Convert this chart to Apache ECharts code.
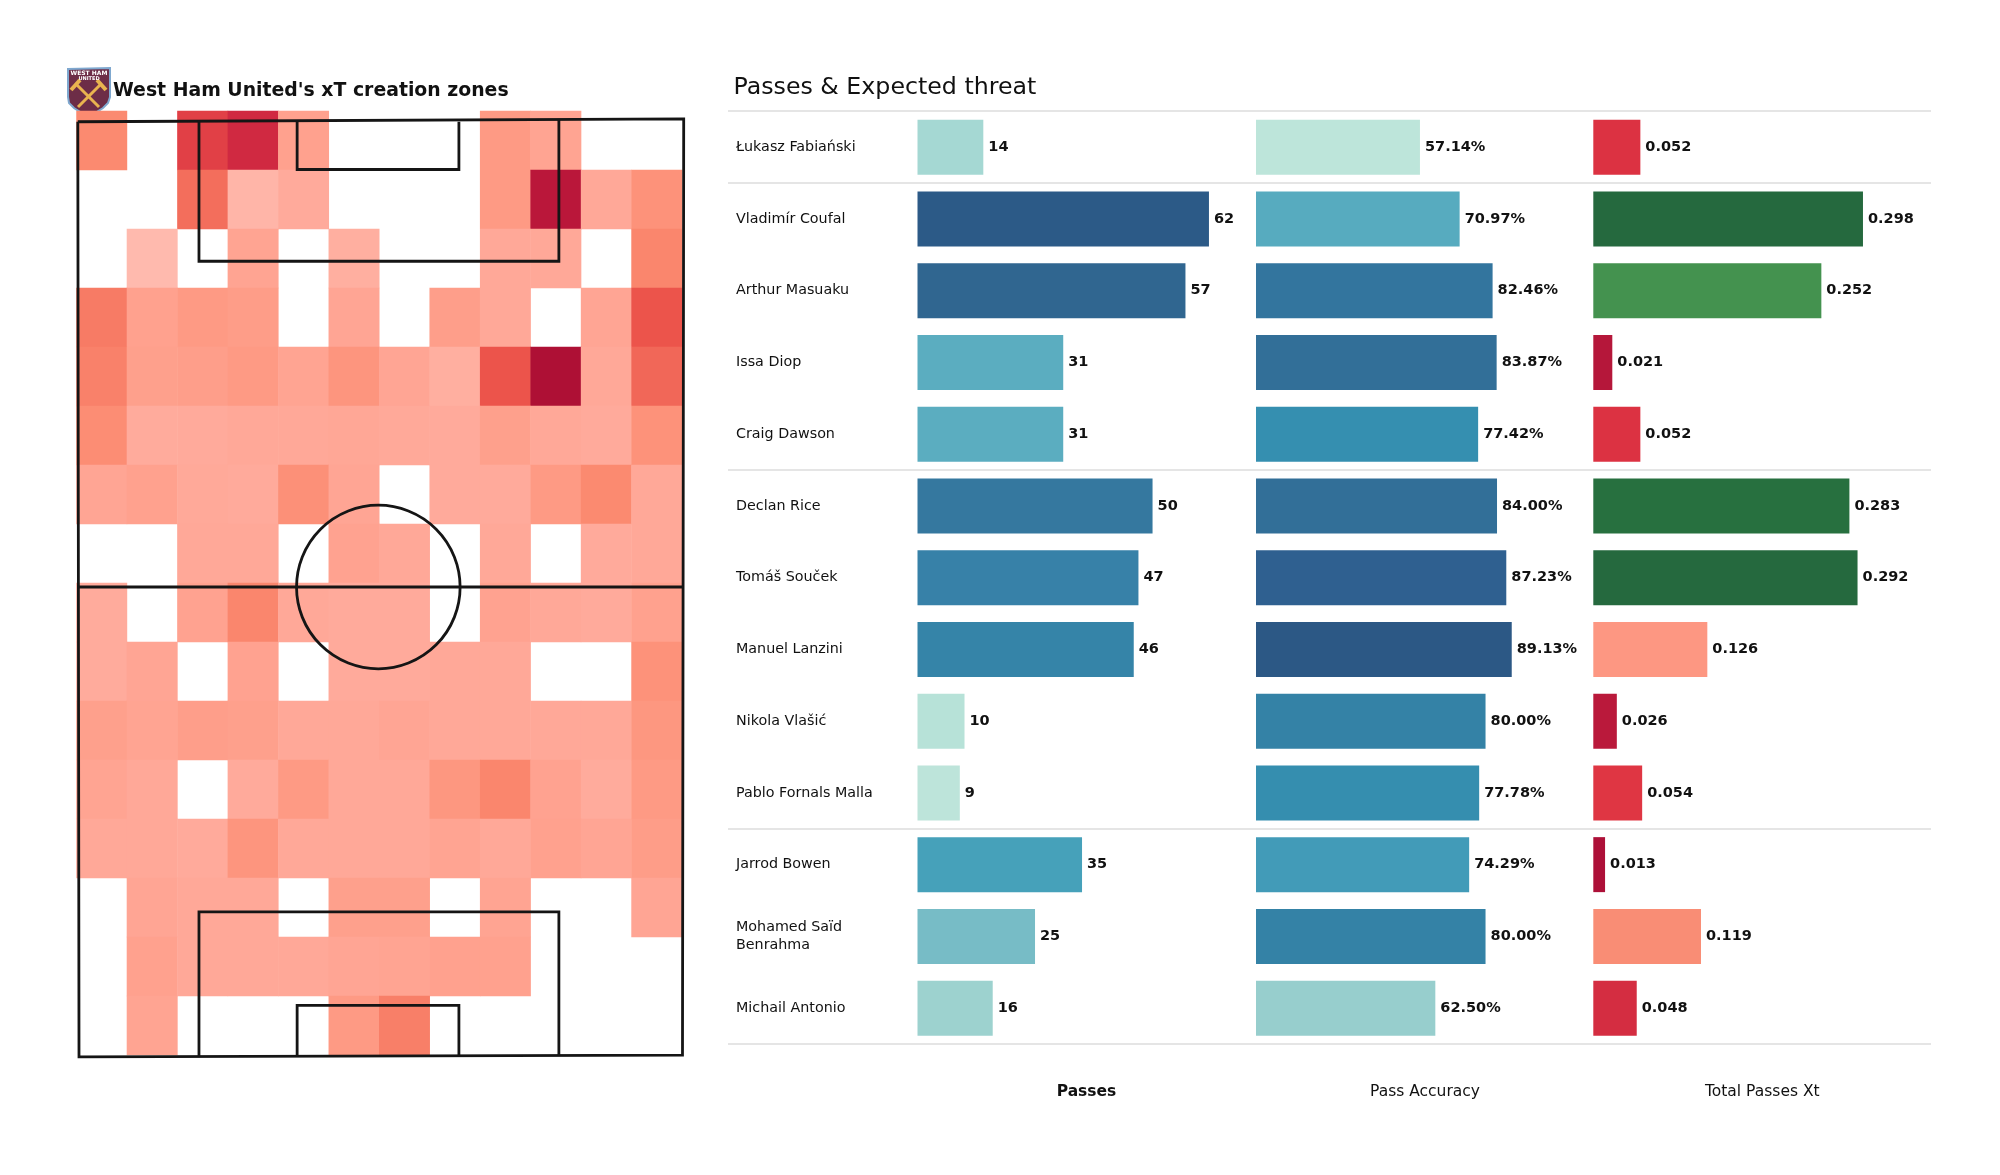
<!DOCTYPE html>
<html><head><meta charset="utf-8">
<style>html,body{margin:0;padding:0;background:#fff}#c{width:2000px;height:1175px}</style>
<script src="https://cdn.jsdelivr.net/npm/echarts@6/dist/echarts.min.js"></script>
</head><body><div id="c"></div>
<script>
const players = ["Łukasz Fabiański","Vladimír Coufal","Arthur Masuaku","Issa Diop","Craig Dawson","Declan Rice","Tomáš Souček","Manuel Lanzini","Nikola Vlašić","Pablo Fornals Malla","Jarrod Bowen","Mohamed Saïd\nBenrahma","Michail Antonio"];
const passes = [14,62,57,31,31,50,47,46,10,9,35,25,16];
const accuracy = [57.14,70.97,82.46,83.87,77.42,84.00,87.23,89.13,80.00,77.78,74.29,80.00,62.50];
const xT = [0.052,0.298,0.252,0.021,0.052,0.283,0.292,0.126,0.026,0.054,0.013,0.119,0.048];
const passColors = ['#a5d8d3','#2c5a87','#306690','#5badc0','#5badc0','#35789f','#3781a8','#3584a8','#b7e2d8','#bde4da','#46a1ba','#77bcc6','#9dd2cf'];
const accColors = ['#bde5da','#57abbf','#33759e','#326f98','#358fb0','#326f98','#2f6090','#2c5885','#3482a6','#358eaf','#429bb8','#3482a6','#97cecd'];
const xtColors = ['#dc3242','#25693e','#44924f','#b5173a','#dc3242','#27703f','#25693e','#fd9782','#ba193b','#df3643','#ad1038','#f98d75','#d42d41'];
const separatorRows = [0,1,5,10,13];
const panelNames = ['Passes','Pass Accuracy','Total Passes Xt'];
// xT zone grid, top row first; 0 = no passes from the zone
const heatRows = [
 [.40,0,.68,.78,.25,0,0,0,.30,.23,0,0],
 [0,0,.52,.08,.18,0,0,0,.30,.92,.20,.35],
 [0,.03,0,.23,0,.14,0,0,.20,.20,0,.42],
 [.47,.25,.30,.28,0,.22,0,.27,.20,0,.22,.60],
 [.44,.26,.27,.30,.23,.33,.22,.14,.60,1,.20,.54],
 [.38,.17,.18,.20,.20,.21,.19,.18,.26,.20,.18,.35],
 [.22,.25,.19,.18,.36,.22,0,.18,.18,.30,.40,.20],
 [0,0,.20,.20,0,.24,.20,0,.20,0,.18,.20],
 [.17,0,.24,.42,.20,.18,.18,0,.24,.20,.18,.25],
 [.17,.22,0,.24,0,.18,.18,.20,.20,0,0,.35],
 [.26,.23,.27,.26,.20,.20,.22,.20,.20,.20,.20,.32],
 [.23,.20,0,.18,.30,.20,.20,.32,.42,.24,.17,.30],
 [.20,.20,.18,.33,.20,.20,.20,.23,.20,.25,.22,.28],
 [0,.22,.20,.20,0,.26,.26,0,.23,0,0,.22],
 [0,.25,.20,.20,.20,.22,.23,.25,.25,0,0,0],
 [0,.23,0,0,0,.30,.45,0,0,0,0,0]
];
const heatColors = ['#ffbdb2','#ffb3a6','#ffa898','#fe9a84','#fb8a70','#f57460','#ec544b','#de3b45','#cd2540','#bd193b','#ae1035'];
// pitch markings in percent of pitch width / length
const pitchLines = [
 [[0,0.2],[100,-0.1],[99.8,99.9],[0.2,100.1],[0,0.2]],
 [[0,49.9],[100,49.9]],
 [[20,0],[20,15.1],[79.4,15.1],[79.4,0]],
 [[36.2,0.2],[36.2,5.3],[62.9,5.3],[62.9,0.2]],
 [[20,100],[20,84.6],[79.4,84.6],[79.4,100]],
 [[36.2,100],[36.2,94.6],[62.9,94.6],[62.9,100]]
];
const centreCircle = [49.6,49.9,13.5];

const FONT = '"DejaVu Sans"';
const heatData = [];
heatRows.forEach((r,y)=>r.forEach((v,x)=>{ if(v>0) heatData.push([x,y,v]); }));
const ink = '#111111';
const PANEL_W = 338, ROW_TOP = 111.3, ROW_H = 932.7;
const panels = [
 {left:917.5, max:71.9, vals:passes, cols:passColors, fmt:v=>String(v)},
 {left:1256, max:117.8, vals:accuracy, cols:accColors, fmt:v=>v.toFixed(2)+'%'},
 {left:1593.3, max:0.3735, vals:xT, cols:xtColors, fmt:v=>v.toFixed(3)}
];
const grid = [
 {left:76.5,top:111,width:605.5,height:944},
 {left:77.8,top:119.9,width:605.9,height:936.1},
 ...panels.map(p=>({left:p.left,top:ROW_TOP,width:PANEL_W,height:ROW_H})),
 {left:728,top:ROW_TOP-0.5,width:1203,height:ROW_H}
];
const off = {show:false};
const xAxis = [
 {type:'category',gridIndex:0,show:false,data:heatRows[0].map((_,i)=>i)},
 {type:'value',gridIndex:1,show:false,min:0,max:100},
 ...panels.map((p,i)=>({type:'value',gridIndex:i+2,min:0,max:p.max,
   axisLine:off,axisTick:off,axisLabel:off,splitLine:off,
   name:panelNames[i],nameLocation:'middle',nameGap:48,
   nameTextStyle:{fontFamily:FONT,fontSize:15.5,color:ink,fontWeight:i===0?'bold':'normal',verticalAlign:'middle'}})),
 {type:'value',gridIndex:5,show:false,min:0,max:1}
];
const yAxis = [
 {type:'category',gridIndex:0,show:false,inverse:true,data:heatRows.map((_,i)=>i)},
 {type:'value',gridIndex:1,show:false,inverse:true,min:0,max:100},
 ...panels.map((p,i)=>({type:'category',gridIndex:i+2,inverse:true,data:players,
   axisLine:off,axisTick:off,splitLine:off,
   axisLabel:i===0?{show:true,align:'left',margin:181.5,padding:[2,0,0,0],fontFamily:FONT,fontSize:14.3,lineHeight:18,color:ink,interval:0}:off})),
 {type:'value',gridIndex:5,show:false,inverse:true,min:0,max:13}
];
const series = [
 {type:'heatmap',xAxisIndex:0,yAxisIndex:0,data:heatData,silent:true,z:1},
 ...pitchLines.map(l=>({type:'line',xAxisIndex:1,yAxisIndex:1,data:l,clip:false,symbol:'none',silent:true,z:5,
   lineStyle:{color:'#151515',width:2.8,join:'miter'}})),
 {type:'custom',xAxisIndex:1,yAxisIndex:1,clip:false,silent:true,z:5,data:[centreCircle],
  renderItem:(params,api)=>{
   const c=api.coord([api.value(0),api.value(1)]);
   const r=api.size([api.value(2),0])[0];
   return {type:'circle',shape:{cx:c[0],cy:c[1],r},style:{fill:null,stroke:'#151515',lineWidth:2.8}};
  }},
 ...panels.map((p,i)=>({type:'bar',xAxisIndex:i+2,yAxisIndex:i+2,barWidth:55,silent:true,z:3,
   data:p.vals.map((v,k)=>({value:v,itemStyle:{color:p.cols[k]}})),
   label:{show:true,position:'right',distance:5,fontFamily:FONT,fontWeight:'bold',fontSize:14.5,color:ink,
     formatter:o=>p.fmt(o.value)}})),
 {type:'line',xAxisIndex:5,yAxisIndex:5,data:[],silent:true,z:2,
  markLine:{silent:true,symbol:'none',animation:false,label:{show:false},
   lineStyle:{color:'#dcdcdc',width:1.5,type:'solid'},
   data:separatorRows.map(r=>({yAxis:r}))}}
];
const crest = {type:'group',children:[
 {type:'polygon',shape:{points:[[68,69],[110,68],[110,97],[108,103],[103,108],[95,113],[88.5,116],[82,113],[74,108],[69,103],[68,97]]},
  style:{fill:'#6d2d47',stroke:'#7fa8cf',lineWidth:2}},
 {type:'line',shape:{x1:76,y1:84,x2:99,y2:107},style:{stroke:'#e9b44f',lineWidth:3}},
 {type:'line',shape:{x1:101,y1:84,x2:78,y2:107},style:{stroke:'#e9b44f',lineWidth:3}},
 {type:'line',shape:{x1:71,y1:90,x2:80,y2:80},style:{stroke:'#e9b44f',lineWidth:4}},
 {type:'line',shape:{x1:97,y1:80,x2:106,y2:90},style:{stroke:'#e9b44f',lineWidth:4}},
 {type:'text',style:{x:89,y:70,text:'WEST HAM',align:'center',fill:'#fff',font:'bold 6px "DejaVu Sans"'}},
 {type:'text',style:{x:89,y:76,text:'UNITED',align:'center',fill:'#fff',font:'bold 5px "DejaVu Sans"'}}
]};
const chart = echarts.init(document.getElementById('c'),null,{renderer:'canvas'});
chart.setOption({
 animation:false,backgroundColor:'#fff',
 title:[
  {text:"West Ham United's xT creation zones",left:113,top:82,padding:0,textStyle:{fontFamily:FONT,fontSize:18.85,fontWeight:'bold',color:ink}},
  {text:'Passes & Expected threat',left:733.5,top:76,padding:0,textStyle:{fontFamily:FONT,fontSize:23.7,fontWeight:'normal',color:ink}}
 ],
 grid,xAxis,yAxis,series,
 visualMap:{show:false,seriesIndex:0,dimension:2,min:0,max:1,inRange:{color:heatColors}},
 graphic:[crest]
});
</script></body></html>
